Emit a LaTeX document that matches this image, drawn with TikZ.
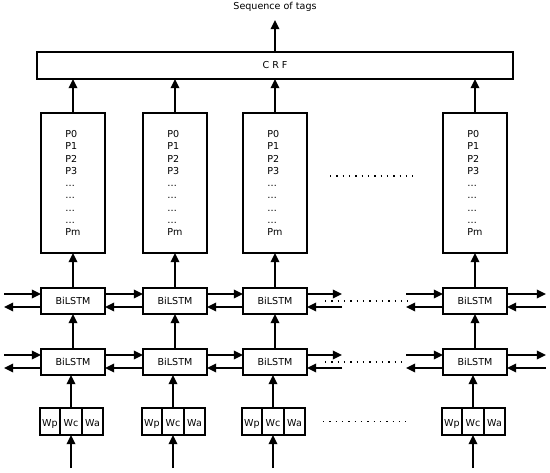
\documentclass[tikz,border=0pt]{standalone}
\usepackage{fontspec}
\setmainfont{DejaVu Sans}
\usetikzlibrary{arrows.meta}

\begin{document}
\begin{tikzpicture}[x=0.025cm,y=-0.025cm,
    font=\fontsize{6.8}{8.7}\selectfont,
    box/.style={draw,line width=1.3pt,inner sep=0pt,outer sep=0pt},
    lstmbox/.style={box,minimum width=1.6cm,minimum height=0.65cm},
    probbox/.style={box,minimum width=1.6cm,minimum height=3.5cm,align=left},
    wcell/.style={box,minimum height=0.675cm,text height=1.6ex,text depth=0.4ex},
    flow/.style={line width=1.4pt,-{Triangle[length=6.5pt,width=6pt]}},
    fwd/.style={flow,transform canvas={yshift=4.98pt}},
    bwd/.style={flow,transform canvas={yshift=-4.27pt}},
    gap/.style={line width=0.9pt,dash pattern=on 0.9pt off 3.6pt}]
  \useasboundingbox (0,0) rectangle (550,472);

  % CRF layer and output
  \node[box,minimum width=11.9cm,minimum height=0.675cm] (crf) at (275,65.5) {C R F};
  \node (tags) at (275,7) {Sequence of tags};
  \coordinate (crfout) at (275,20);
  \draw[flow] (crf.north) -- (crfout);

  % one column per word
  \foreach \c/\x in {1/73,2/175,3/275,4/475} {
    \node[probbox] (p\c) at (\x,183) {P0\\P1\\P2\\P3\\…\\…\\…\\…\\Pm};
    \node[lstmbox] (hi\c) at (\x,301) {BiLSTM};
    \node[lstmbox] (lo\c) at (\x,362) {BiLSTM};
    \node[wcell,minimum width=0.55cm] (wc\c) at (\x-2,421.5) {Wc};
    \node[wcell,minimum width=0.5cm,anchor=east] (wp\c) at (wc\c.west) {Wp};
    \node[wcell,minimum width=0.525cm,anchor=west] (wa\c) at (wc\c.east) {Wa};
    \coordinate (in\c) at (\x-2,468);
    \draw[flow] (in\c) -- (wc\c.south);
    \draw[flow] (wc\c.north) -- (wc\c.north |- lo\c.south);
    \draw[flow] (lo\c) -- (hi\c);
    \draw[flow] (hi\c) -- (p\c);
    \draw[flow] (p\c.north) -- (p\c.north |- crf.south);
  }

  % recurrent links in both directions
  \foreach \r/\y in {hi/301,lo/362} {
    \coordinate (\r L) at (4,\y);
    \coordinate (\r M) at (342,\y);
    \coordinate (\r N) at (406,\y);
    \coordinate (\r R) at (546,\y);
    \draw[fwd] (\r L) -- (\r1.west);
    \draw[bwd] (\r1.west) -- (\r L);
    \draw[fwd] (\r1.east) -- (\r2.west);
    \draw[bwd] (\r2.west) -- (\r1.east);
    \draw[fwd] (\r2.east) -- (\r3.west);
    \draw[bwd] (\r3.west) -- (\r2.east);
    \draw[fwd] (\r3.east) -- (\r M);
    \draw[bwd] (\r M) -- (\r3.east);
    \draw[fwd] (\r N) -- (\r4.west);
    \draw[bwd] (\r4.west) -- (\r N);
    \draw[fwd] (\r4.east) -- (\r R);
    \draw[bwd] (\r R) -- (\r4.east);
  }

  % omitted columns
  \draw[gap] (330,176) -- (413,176);
  \draw[gap] (325,301) -- (408,301);
  \draw[gap] (325,362) -- (402,362);
  \draw[gap] (323,421.5) -- (406,421.5);
\end{tikzpicture}
\end{document}
